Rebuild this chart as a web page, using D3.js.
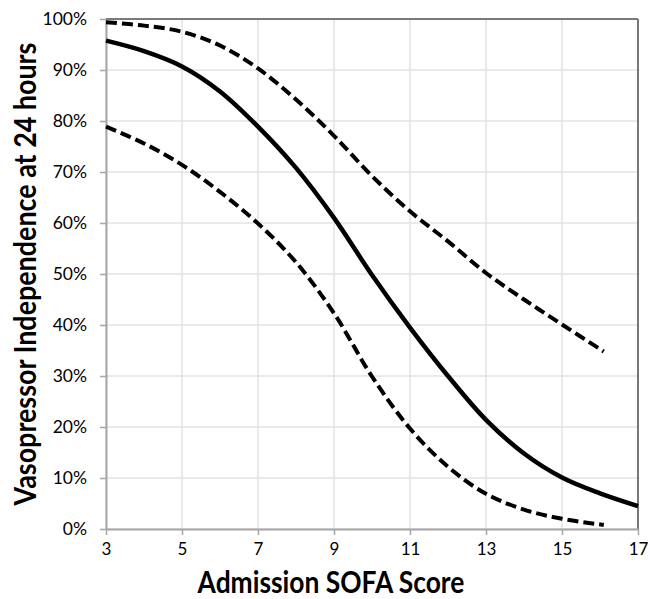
<!DOCTYPE html>
<html>
<head>
<meta charset="utf-8">
<script src="https://cdn.jsdelivr.net/npm/d3@7"></script>
<style>
  body { margin: 0; background: #fff; }
  text { font-family: Lato, "Open Sans", sans-serif; }
</style>
</head>
<body>
<div id="chart"></div>
<script>
// values
var xTicks = [3, 5, 7, 9, 11, 13, 15, 17];
var yTicks = [0, 0.1, 0.2, 0.3, 0.4, 0.5, 0.6, 0.7, 0.8, 0.9, 1.0];

var fitScores = [3, 4, 5, 6, 7, 8, 9, 10, 11, 12, 13, 14, 15, 16, 17];
var fitValues = [0.9575, 0.937, 0.907, 0.858, 0.789, 0.708, 0.610, 0.498, 0.395, 0.300, 0.214, 0.148, 0.101, 0.070, 0.045];

var ciScores = [3, 4, 5, 6, 7, 8, 9, 10, 11, 12, 13, 14, 15, 16.1];
var upperValues = [0.9935, 0.987, 0.975, 0.948, 0.903, 0.842, 0.771, 0.692, 0.623, 0.564, 0.502, 0.450, 0.401, 0.348];
var lowerValues = [0.789, 0.756, 0.714, 0.661, 0.599, 0.523, 0.423, 0.299, 0.197, 0.122, 0.069, 0.038, 0.020, 0.008];

var xTitle = "Admission SOFA Score";
var yTitle = "Vasopressor Independence at 24 hours";

// dimensions
var margin = {top: 19, right: 12, bottom: 70, left: 106},
    width = 650 - margin.left - margin.right,
    height = 599 - margin.top - margin.bottom;

var svg = d3.select("#chart")
    .append("svg")
        .attr("width", 650)
        .attr("height", 599)
    .append("g")
        .attr("transform", "translate(" + margin.left + "," + margin.top + ")");

var x = d3.scaleLinear().domain([3, 17]).range([0, width]);
var y = d3.scaleLinear().domain([0, 1]).range([height, 0]);

// gridlines
svg.append("g")
    .selectAll("line")
    .data(yTicks)
    .join("line")
        .attr("x1", 0).attr("x2", width)
        .attr("y1", d => y(d)).attr("y2", d => y(d))
        .attr("stroke", "#e3e3e3")
        .attr("stroke-width", 1.5);
svg.append("g")
    .selectAll("line")
    .data(xTicks)
    .join("line")
        .attr("x1", d => x(d)).attr("x2", d => x(d))
        .attr("y1", 0).attr("y2", height)
        .attr("stroke", "#e3e3e3")
        .attr("stroke-width", 1.5);

// frame: top and right borders
svg.append("line")
    .attr("x1", 0).attr("x2", width)
    .attr("y1", 0).attr("y2", 0)
    .attr("stroke", "#555").attr("stroke-width", 1.5);
svg.append("line")
    .attr("x1", width).attr("x2", width)
    .attr("y1", 0).attr("y2", height)
    .attr("stroke", "#777").attr("stroke-width", 2);

// x axis
var xAxis = svg.append("g")
    .attr("transform", "translate(0," + height + ")")
    .call(d3.axisBottom(x).tickValues(xTicks).tickSize(6).tickSizeOuter(0).tickPadding(8));
xAxis.select(".domain").attr("stroke", "#a6a6a6").attr("stroke-width", 2);
xAxis.selectAll(".tick line").attr("stroke", "#a6a6a6").attr("stroke-width", 1.5);
xAxis.selectAll(".tick text")
    .style("font-size", "17px")
    .attr("fill", "#000")
    .style("font-family", "Lato, sans-serif");

// y axis
var yAxis = svg.append("g")
    .call(d3.axisLeft(y).tickValues(yTicks).tickFormat(d3.format(".0%")).tickSize(6).tickSizeOuter(0).tickPadding(13));
yAxis.select(".domain").attr("stroke", "#a6a6a6").attr("stroke-width", 2);
yAxis.selectAll(".tick line").attr("stroke", "#a6a6a6").attr("stroke-width", 1.5);
yAxis.selectAll(".tick text")
    .style("font-size", "17.5px")
    .attr("fill", "#000")
    .style("font-family", "Lato, sans-serif");

// curves
var line = d3.line()
    .x(d => x(d[0]))
    .y(d => y(d[1]))
    .curve(d3.curveCatmullRom);

svg.append("path")
    .datum(d3.zip(ciScores, upperValues))
    .attr("d", line)
    .attr("fill", "none")
    .attr("stroke", "#000")
    .attr("stroke-width", 4)
    .attr("stroke-dasharray", "11,5");

svg.append("path")
    .datum(d3.zip(ciScores, lowerValues))
    .attr("d", line)
    .attr("fill", "none")
    .attr("stroke", "#000")
    .attr("stroke-width", 4)
    .attr("stroke-dasharray", "11,5");

svg.append("path")
    .datum(d3.zip(fitScores, fitValues))
    .attr("d", line)
    .attr("fill", "none")
    .attr("stroke", "#000")
    .attr("stroke-width", 4.5);

// axis titles
svg.append("text")
    .attr("transform", "translate(" + (331 - margin.left) + "," + (593 - margin.top) + ") scale(1,1.14)")
    .attr("text-anchor", "middle")
    .style("font-size", "26.4px")
    .style("font-weight", "bold")
    .text(xTitle);

svg.append("text")
    .attr("transform", "translate(" + (36 - margin.left) + "," + (274 - margin.top) + ") rotate(-90) scale(1,1.15)")
    .attr("text-anchor", "middle")
    .style("font-size", "26.9px")
    .style("font-weight", "bold")
    .text(yTitle);
</script>
</body>
</html>
